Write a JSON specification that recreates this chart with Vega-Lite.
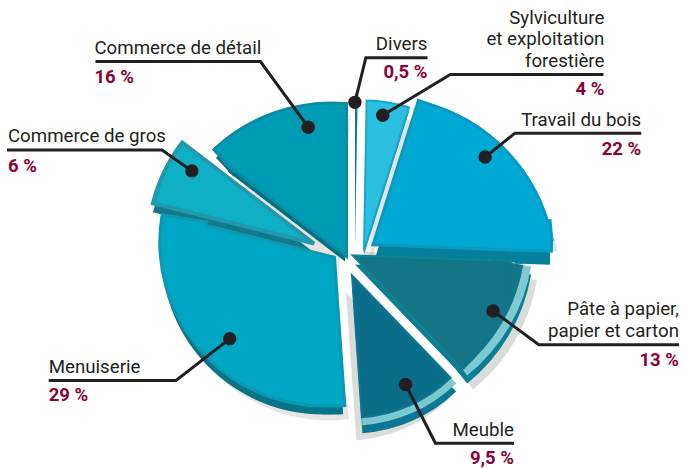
{"$schema":"https://vega.github.io/schema/vega-lite/v6.json","width":685,"height":468,"padding":0,"autosize":{"type":"fit","contains":"padding"},"background":"white","view":{"stroke":null},
"datasets":{"slices":[{"k":"Divers","value":0.5,"o":1},{"k":"Sylv","value":4,"o":2},{"k":"Travail","value":22,"o":3},{"k":"Pate","value":13,"o":4},{"k":"Meuble","value":9.5,"o":5},{"k":"Menu","value":29,"o":6},{"k":"Gros","value":6,"o":7},{"k":"Detail","value":16,"o":8}],
"leaders":[{"k":"Divers","s":0,"ax":357,"ay":103},{"k":"Divers","s":1,"ax":368,"ay":58},{"k":"Divers","s":2,"ax":430,"ay":58},{"k":"Sylv","s":0,"ax":385,"ay":116},{"k":"Sylv","s":1,"ax":453,"ay":75},{"k":"Sylv","s":2,"ax":607,"ay":75},{"k":"Travail","s":0,"ax":488,"ay":158},{"k":"Travail","s":1,"ax":518,"ay":134},{"k":"Travail","s":2,"ax":645,"ay":134},{"k":"Pate","s":0,"ax":496,"ay":313},{"k":"Pate","s":1,"ax":542,"ay":347},{"k":"Pate","s":2,"ax":683,"ay":347},{"k":"Meuble","s":0,"ax":408,"ay":387},{"k":"Meuble","s":1,"ax":438,"ay":446},{"k":"Meuble","s":2,"ax":517,"ay":446},{"k":"Menu","s":0,"ax":231,"ay":341},{"k":"Menu","s":1,"ax":177,"ay":383},{"k":"Menu","s":2,"ax":49,"ay":383},{"k":"Gros","s":0,"ax":193,"ay":172},{"k":"Gros","s":1,"ax":163,"ay":151},{"k":"Gros","s":2,"ax":7,"ay":151},{"k":"Detail","s":0,"ax":310,"ay":128},{"k":"Detail","s":1,"ax":262,"ay":62},{"k":"Detail","s":2,"ax":96,"ay":62}],
"labels":[{"t":"Divers","ax":430,"ay":50,"side":"r","kind":"n"},{"t":"0,5 %","ax":430,"ay":79,"side":"r","kind":"p"},{"t":"Sylviculture","ax":608,"ay":24,"side":"r","kind":"n"},{"t":"et exploitation","ax":608,"ay":45,"side":"r","kind":"n"},{"t":"forestière","ax":608,"ay":67,"side":"r","kind":"n"},{"t":"4 %","ax":608,"ay":96,"side":"r","kind":"p"},{"t":"Travail du bois","ax":645,"ay":127,"side":"r","kind":"n"},{"t":"22 %","ax":645,"ay":156,"side":"r","kind":"p"},{"t":"Pâte à papier,","ax":683,"ay":317,"side":"r","kind":"n"},{"t":"papier et carton","ax":683,"ay":339,"side":"r","kind":"n"},{"t":"13 %","ax":683,"ay":368,"side":"r","kind":"p"},{"t":"Meuble","ax":517,"ay":439,"side":"r","kind":"n"},{"t":"9,5 %","ax":517,"ay":467,"side":"r","kind":"p"},{"t":"Menuiserie","ax":49,"ay":375,"side":"l","kind":"n"},{"t":"29 %","ax":49,"ay":404,"side":"l","kind":"p"},{"t":"Commerce de gros","ax":8,"ay":143,"side":"l","kind":"n"},{"t":"6 %","ax":8,"ay":173,"side":"l","kind":"p"},{"t":"Commerce de détail","ax":95,"ay":54,"side":"l","kind":"n"},{"t":"16 %","ax":95,"ay":84,"side":"l","kind":"p"}]},
"layer":[
{"data":{"name":"slices"},"transform":[{"stack":"value","sort":[{"field":"o"}],"groupby":[],"as":["start","end"]}],
"resolve":{"scale":{"theta":"independent"}},
"encoding":{"theta":{"field":"start","type":"quantitative","scale":{"domain":[0,0.5,4.5,26.5,39.5,49,78,84,100],"range":[0,0.0175,0.305,1.606,2.374,3.072,4.957,5.367,6.283]}},"theta2":{"field":"end"}},
"layer":[
{"transform":[{"filter":"datum.k==='Sylv'"}],"mark":{"type":"arc","radius":150,"xOffset":29.5,"yOffset":32,"fill":"#000","opacity":0.1}},
{"transform":[{"filter":"datum.k==='Travail'"}],"encoding":{"theta":{"field":"start","type":"quantitative","scale":{"domain":[4.5,26.5],"range":[0.247,1.377]}},"theta2":{"field":"end"}},"mark":{"type":"arc","radius":174,"xOffset":46,"yOffset":52,"fill":"#000","opacity":0.12}},
{"transform":[{"filter":"datum.k==='Pate'"}],"encoding":{"theta":{"field":"start","type":"quantitative","scale":{"domain":[26.5,39.5],"range":[1.738,2.464]}},"theta2":{"field":"end"}},"mark":{"type":"arc","radius":178,"xOffset":21,"yOffset":18,"fill":"#000","opacity":0.14}},
{"transform":[{"filter":"datum.k==='Meuble'"}],"mark":{"type":"arc","radius":148,"xOffset":5.5,"yOffset":60,"fill":"#000","opacity":0.14}},
{"transform":[{"filter":"datum.k==='Menu'"}],"encoding":{"theta":{"field":"start","type":"quantitative","scale":{"domain":[49,78],"range":[3.02,4.873]}},"theta2":{"field":"end"}},"mark":{"type":"arc","radius":162,"xOffset":-11,"yOffset":26,"fill":"#000","opacity":0.1}},
{"transform":[{"filter":"datum.k==='Gros'"}],"mark":{"type":"arc","radius":166,"xOffset":-20,"yOffset":28,"fill":"#000","opacity":0.1}},
{"transform":[{"filter":"datum.k==='Detail'"}],"encoding":{"theta":{"field":"start","type":"quantitative","scale":{"domain":[84,100],"range":[5.539,6.36]}},"theta2":{"field":"end"}},"mark":{"type":"arc","radius":172,"xOffset":-3,"yOffset":54,"fill":"#000","opacity":0.1}},

{"transform":[{"filter":"datum.k==='Divers'"}],"mark":{"type":"arc","radius":155,"xOffset":14.5,"yOffset":16,"fill":"#0c7d90"}},

{"transform":[{"filter":"datum.k==='Detail'"}],"mark":{"type":"arc","radius":148,"xOffset":4.5,"yOffset":29,"fill":"#046f82"}},
{"transform":[{"filter":"datum.k==='Detail'"}],"encoding":{"theta":{"field":"start","type":"quantitative","scale":{"domain":[84,100],"range":[5.539,6.36]}},"theta2":{"field":"end"}},"mark":{"type":"arc","radius":171,"radius2":145,"xOffset":-8.7,"yOffset":51,"fill":"#046f82"}},
{"transform":[{"filter":"datum.k==='Detail'"}],"mark":{"type":"arc","radius":148,"xOffset":4.5,"yOffset":21,"fill":"#0a8da3","stroke":"#0a8da3","strokeWidth":6,"strokeJoin":"miter"}},
{"transform":[{"filter":"datum.k==='Detail'"}],"encoding":{"theta":{"field":"start","type":"quantitative","scale":{"domain":[84,100],"range":[5.539,6.36]}},"theta2":{"field":"end"}},"mark":{"type":"arc","radius":171,"radius2":145,"xOffset":-8.7,"yOffset":43,"fill":"#0a8da3","stroke":"#0a8da3","strokeWidth":6,"strokeJoin":"miter"}},
{"transform":[{"filter":"datum.k==='Detail'"}],"mark":{"type":"arc","radius":148,"xOffset":4.5,"yOffset":21,"fill":"#009bb5"}},
{"transform":[{"filter":"datum.k==='Detail'"}],"encoding":{"theta":{"field":"start","type":"quantitative","scale":{"domain":[84,100],"range":[5.539,6.36]}},"theta2":{"field":"end"}},"mark":{"type":"arc","radius":171,"radius2":145,"xOffset":-8.7,"yOffset":43,"fill":"#009bb5"}},

{"transform":[{"filter":"datum.k==='Sylv'"}],"mark":{"type":"arc","radius":150,"xOffset":23.5,"yOffset":22,"fill":"#0a9cc5"}},
{"transform":[{"filter":"datum.k==='Sylv'"}],"mark":{"type":"arc","radius":150,"xOffset":23.5,"yOffset":18,"fill":"#2bbfe0","stroke":"#17a7cf","strokeWidth":2,"strokeJoin":"miter"}},

{"transform":[{"filter":"datum.k==='Travail'"}],"mark":{"type":"arc","radius":148,"xOffset":34.5,"yOffset":26,"fill":"#04809c"}},
{"transform":[{"filter":"datum.k==='Travail'"}],"encoding":{"theta":{"field":"start","type":"quantitative","scale":{"domain":[4.5,26.5],"range":[0.247,1.377]}},"theta2":{"field":"end"}},"mark":{"type":"arc","radius":173,"radius2":143,"xOffset":40,"yOffset":52,"fill":"#04809c"}},
{"transform":[{"filter":"datum.k==='Travail'"}],"encoding":{"theta":{"field":"start","type":"quantitative","scale":{"domain":[4.5,26.5],"range":[1.45,1.606]}},"theta2":{"field":"end"}},"mark":{"type":"arc","radius":175,"radius2":100,"xOffset":34.5,"yOffset":26,"fill":"#04809c"}},
{"transform":[{"filter":"datum.k==='Travail'"}],"mark":{"type":"arc","radius":148,"xOffset":34.5,"yOffset":11,"fill":"#0a9abf","stroke":"#0a9abf","strokeWidth":6,"strokeJoin":"miter"}},
{"transform":[{"filter":"datum.k==='Travail'"}],"encoding":{"theta":{"field":"start","type":"quantitative","scale":{"domain":[4.5,26.5],"range":[0.247,1.377]}},"theta2":{"field":"end"}},"mark":{"type":"arc","radius":173,"radius2":143,"xOffset":40,"yOffset":39.4,"fill":"#0a9abf","stroke":"#0a9abf","strokeWidth":6,"strokeJoin":"miter"}},
{"transform":[{"filter":"datum.k==='Travail'"}],"encoding":{"theta":{"field":"start","type":"quantitative","scale":{"domain":[4.5,26.5],"range":[1.45,1.606]}},"theta2":{"field":"end"}},"mark":{"type":"arc","radius":175,"radius2":100,"xOffset":34.5,"yOffset":11,"fill":"#0a9abf","stroke":"#0a9abf","strokeWidth":6,"strokeJoin":"miter"}},
{"transform":[{"filter":"datum.k==='Travail'"}],"mark":{"type":"arc","radius":148,"xOffset":34.5,"yOffset":11,"fill":"#00a9d4"}},
{"transform":[{"filter":"datum.k==='Travail'"}],"encoding":{"theta":{"field":"start","type":"quantitative","scale":{"domain":[4.5,26.5],"range":[0.247,1.377]}},"theta2":{"field":"end"}},"mark":{"type":"arc","radius":173,"radius2":143,"xOffset":40,"yOffset":39.4,"fill":"#00a9d4"}},
{"transform":[{"filter":"datum.k==='Travail'"}],"encoding":{"theta":{"field":"start","type":"quantitative","scale":{"domain":[4.5,26.5],"range":[1.45,1.606]}},"theta2":{"field":"end"}},"mark":{"type":"arc","radius":175,"radius2":100,"xOffset":34.5,"yOffset":11,"fill":"#00a9d4"}},

{"transform":[{"filter":"datum.k==='Gros'"}],"mark":{"type":"arc","radius":166,"xOffset":-26.5,"yOffset":20,"fill":"#12798c"}},
{"transform":[{"filter":"datum.k==='Gros'"}],"mark":{"type":"arc","radius":166,"xOffset":-26.5,"yOffset":11,"fill":"#0fb0c6","stroke":"#2098ad","strokeWidth":4,"strokeJoin":"miter"}},

{"transform":[{"filter":"datum.k==='Menu'"}],"mark":{"type":"arc","radius":146,"xOffset":-7.5,"yOffset":36,"fill":"#047486"}},
{"transform":[{"filter":"datum.k==='Menu'"}],"encoding":{"theta":{"field":"start","type":"quantitative","scale":{"domain":[49,78],"range":[3.02,4.873]}},"theta2":{"field":"end"}},"mark":{"type":"arc","radius":162,"radius2":120,"xOffset":-17.2,"yOffset":20,"fill":"#047486"}},
{"transform":[{"filter":"datum.k==='Menu'"}],"mark":{"type":"arc","radius":146,"xOffset":-7.5,"yOffset":26,"fill":"#0b98b1","stroke":"#0b98b1","strokeWidth":6,"strokeJoin":"miter"}},
{"transform":[{"filter":"datum.k==='Menu'"}],"encoding":{"theta":{"field":"start","type":"quantitative","scale":{"domain":[49,78],"range":[3.02,4.873]}},"theta2":{"field":"end"}},"mark":{"type":"arc","radius":162,"radius2":120,"xOffset":-17.2,"yOffset":9.9,"fill":"#0b98b1","stroke":"#0b98b1","strokeWidth":6,"strokeJoin":"miter"}},
{"transform":[{"filter":"datum.k==='Menu'"}],"mark":{"type":"arc","radius":146,"xOffset":-7.5,"yOffset":26,"fill":"#00a7c4"}},
{"transform":[{"filter":"datum.k==='Menu'"}],"encoding":{"theta":{"field":"start","type":"quantitative","scale":{"domain":[49,78],"range":[3.02,4.873]}},"theta2":{"field":"end"}},"mark":{"type":"arc","radius":162,"radius2":120,"xOffset":-17.2,"yOffset":9.9,"fill":"#00a7c4"}},

{"transform":[{"filter":"datum.k==='Pate'"}],"mark":{"type":"arc","radius":160,"xOffset":14.5,"yOffset":32,"fill":"#0a7e92"}},
{"transform":[{"filter":"datum.k==='Pate'"}],"encoding":{"theta":{"field":"start","type":"quantitative","scale":{"domain":[26.5,39.5],"range":[1.738,2.464]}},"theta2":{"field":"end"}},"mark":{"type":"arc","radius":178,"radius2":150,"xOffset":15.1,"yOffset":12.3,"fill":"#0a7e92"}},
{"transform":[{"filter":"datum.k==='Pate'"}],"mark":{"type":"arc","radius":160,"xOffset":14.5,"yOffset":24,"fill":"#7fc9d2"}},
{"transform":[{"filter":"datum.k==='Pate'"}],"encoding":{"theta":{"field":"start","type":"quantitative","scale":{"domain":[26.5,39.5],"range":[1.738,2.464]}},"theta2":{"field":"end"}},"mark":{"type":"arc","radius":178,"radius2":150,"xOffset":15.1,"yOffset":4.3,"fill":"#7fc9d2"}},
{"transform":[{"filter":"datum.k==='Pate'"}],"mark":{"type":"arc","radius":155,"xOffset":14.5,"yOffset":24,"fill":"#0f8496","stroke":"#0f8496","strokeWidth":4,"strokeJoin":"miter"}},
{"transform":[{"filter":"datum.k==='Pate'"}],"encoding":{"theta":{"field":"start","type":"quantitative","scale":{"domain":[26.5,39.5],"range":[1.738,2.464]}},"theta2":{"field":"end"}},"mark":{"type":"arc","radius":170,"radius2":140,"xOffset":15.1,"yOffset":4.3,"fill":"#137585"}},
{"transform":[{"filter":"datum.k==='Pate'"}],"mark":{"type":"arc","radius":155,"xOffset":14.5,"yOffset":24,"fill":"#137585"}},

{"transform":[{"filter":"datum.k==='Meuble'"}],"mark":{"type":"arc","radius":150,"xOffset":11.5,"yOffset":51,"fill":"#0b7793"}},
{"transform":[{"filter":"datum.k==='Meuble'"}],"mark":{"type":"arc","radius":150,"xOffset":11.5,"yOffset":43,"fill":"#7cc8d0"}},
{"transform":[{"filter":"datum.k==='Meuble'"}],"mark":{"type":"arc","radius":142,"xOffset":11.5,"yOffset":43,"fill":"#0c6d8a","stroke":"#0b7793","strokeWidth":2,"strokeJoin":"miter"}}
]},
{"data":{"name":"leaders"},"mark":{"type":"line","stroke":"#231f20","strokeWidth":3,"interpolate":"linear"},"encoding":{"x":{"field":"ax","type":"quantitative","scale":{"domain":[0,685],"nice":false,"zero":false},"axis":null},"y":{"field":"ay","type":"quantitative","scale":{"domain":[468,0],"nice":false,"zero":false},"axis":null},"detail":{"field":"k"},"order":{"field":"s"}}},
{"data":{"name":"leaders"},"transform":[{"filter":"datum.s===0"}],"mark":{"type":"point","filled":true,"fill":"#231f20","stroke":null,"opacity":1,"size":180,"shape":"circle"},"encoding":{"x":{"field":"ax","type":"quantitative","scale":{"domain":[0,685],"nice":false,"zero":false},"axis":null},"y":{"field":"ay","type":"quantitative","scale":{"domain":[468,0],"nice":false,"zero":false},"axis":null}}},
{"data":{"name":"labels"},"transform":[{"filter":"datum.side==='r'&&datum.kind==='n'"}],"mark":{"type":"text","align":"right","baseline":"alphabetic","font":"Roboto","fontWeight":400,"fontSize":18.7,"fill":"#231f20"},"encoding":{"x":{"field":"ax","type":"quantitative","scale":{"domain":[0,685],"nice":false,"zero":false},"axis":null},"y":{"field":"ay","type":"quantitative","scale":{"domain":[468,0],"nice":false,"zero":false},"axis":null},"text":{"field":"t"}}},
{"data":{"name":"labels"},"transform":[{"filter":"datum.side==='l'&&datum.kind==='n'"}],"mark":{"type":"text","align":"left","baseline":"alphabetic","font":"Roboto","fontWeight":400,"fontSize":18.7,"fill":"#231f20"},"encoding":{"x":{"field":"ax","type":"quantitative","scale":{"domain":[0,685],"nice":false,"zero":false},"axis":null},"y":{"field":"ay","type":"quantitative","scale":{"domain":[468,0],"nice":false,"zero":false},"axis":null},"text":{"field":"t"}}},
{"data":{"name":"labels"},"transform":[{"filter":"datum.side==='r'&&datum.kind==='p'"}],"mark":{"type":"text","align":"right","baseline":"alphabetic","font":"Roboto","fontWeight":"bold","fontSize":18.5,"fill":"#8a0036"},"encoding":{"x":{"field":"ax","type":"quantitative","scale":{"domain":[0,685],"nice":false,"zero":false},"axis":null},"y":{"field":"ay","type":"quantitative","scale":{"domain":[468,0],"nice":false,"zero":false},"axis":null},"text":{"field":"t"}}},
{"data":{"name":"labels"},"transform":[{"filter":"datum.side==='l'&&datum.kind==='p'"}],"mark":{"type":"text","align":"left","baseline":"alphabetic","font":"Roboto","fontWeight":"bold","fontSize":18.5,"fill":"#8a0036"},"encoding":{"x":{"field":"ax","type":"quantitative","scale":{"domain":[0,685],"nice":false,"zero":false},"axis":null},"y":{"field":"ay","type":"quantitative","scale":{"domain":[468,0],"nice":false,"zero":false},"axis":null},"text":{"field":"t"}}}
]}
